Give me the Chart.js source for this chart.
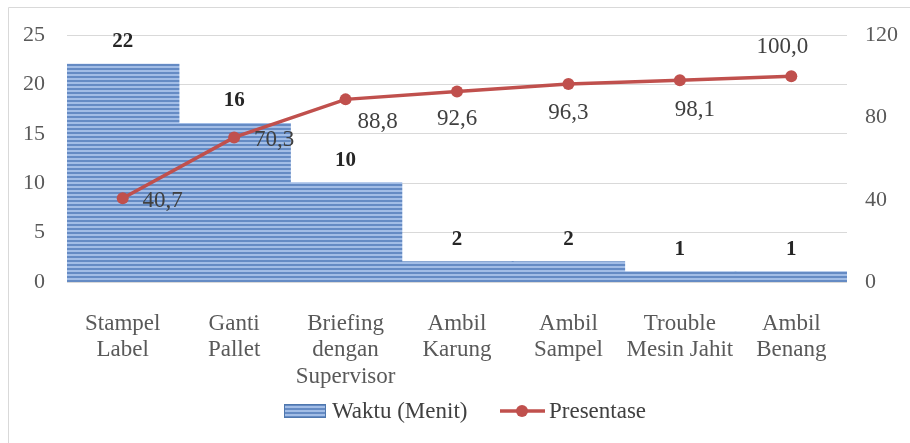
<!DOCTYPE html>
<html>
<head>
<meta charset="utf-8">
<script src="https://cdn.jsdelivr.net/npm/chart.js@4/dist/chart.umd.min.js"></script>
<style>
  body { margin: 0; background: #fff; }
  #wrap { width: 910px; height: 443px; }
</style>
</head>
<body>
<div id="wrap"><canvas id="myChart" width="910" height="443"></canvas></div>
<script>
const categories = [
  ["Stampel", "Label"],
  ["Ganti", "Pallet"],
  ["Briefing", "dengan", "Supervisor"],
  ["Ambil", "Karung"],
  ["Ambil", "Sampel"],
  ["Trouble", "Mesin Jahit"],
  ["Ambil", "Benang"]
];
const waktu = [22, 16, 10, 2, 2, 1, 1];
const presentase = [40.7, 70.3, 88.8, 92.6, 96.3, 98.1, 100.0];
const leftTicks = [0, 5, 10, 15, 20, 25];
const rightTicks = [0, 40, 80, 120];

// where each percentage label sits relative to its point (dx, dy)
const pctLabelOffsets = [[40, 3], [40, 3], [32, 23], [0, 27], [0, 29], [15, 30], [-9, -29]];

const serif = '"Liberation Serif", "Times New Roman", serif';
const lineColor = '#c0504d';

// horizontal stripe fill like the original bars
function stripes() {
  const c = document.createElement('canvas');
  c.width = 8; c.height = 4;
  const g = c.getContext('2d');
  g.fillStyle = '#658bc4'; g.fillRect(0, 0, 8, 2);
  g.fillStyle = '#a2bde6'; g.fillRect(0, 2, 8, 2);
  return g.createPattern(c, 'repeat');
}
const barFill = stripes();

const extras = {
  id: 'extras',
  afterDraw(chart) {
    const ctx = chart.ctx;
    ctx.save();
    // outer frame (top and left only are visible)
    ctx.strokeStyle = '#d9d9d9';
    ctx.lineWidth = 1;
    ctx.beginPath();
    ctx.moveTo(8.5, 443); ctx.lineTo(8.5, 7.5); ctx.lineTo(910, 7.5);
    ctx.stroke();

    // bar values
    const bars = chart.getDatasetMeta(1).data;
    ctx.fillStyle = '#262626';
    ctx.font = 'bold 21px ' + serif;
    ctx.textAlign = 'center';
    ctx.textBaseline = 'middle';
    bars.forEach((b, i) => {
      ctx.fillText(String(waktu[i]), b.x, b.y - 23);
    });

    // percentage values
    const pts = chart.getDatasetMeta(0).data;
    ctx.fillStyle = '#404040';
    ctx.font = '23px ' + serif;
    pts.forEach((p, i) => {
      const o = pctLabelOffsets[i];
      ctx.fillText(presentase[i].toFixed(1).replace('.', ','), p.x + o[0], p.y + o[1]);
    });

    // legend
    const ly = 411;
    ctx.fillStyle = barFill;
    ctx.fillRect(284, ly - 7, 42, 14);
    ctx.strokeStyle = '#4f77ad';
    ctx.strokeRect(284.5, ly - 6.5, 41, 13);
    ctx.fillStyle = '#404040';
    ctx.textAlign = 'left';
    ctx.fillText('Waktu (Menit)', 332, ly + 1);
    ctx.strokeStyle = lineColor;
    ctx.lineWidth = 3.5;
    ctx.beginPath(); ctx.moveTo(500, ly); ctx.lineTo(545, ly); ctx.stroke();
    ctx.fillStyle = lineColor;
    ctx.beginPath(); ctx.arc(522, ly, 6, 0, Math.PI * 2); ctx.fill();
    ctx.fillStyle = '#404040';
    ctx.fillText('Presentase', 549, ly + 1);
    ctx.restore();
  }
};

const ctx = document.getElementById('myChart').getContext('2d');
const chart = new Chart(ctx, {
  data: {
    labels: categories,
    datasets: [{
      type: 'line',
      label: 'Presentase',
      data: presentase,
      yAxisID: 'y1',
      borderColor: lineColor,
      backgroundColor: lineColor,
      borderWidth: 3.5,
      pointRadius: 6,
      pointBackgroundColor: lineColor,
      pointBorderWidth: 0,
      tension: 0,
      order: 0
    }, {
      type: 'bar',
      label: 'Waktu (Menit)',
      data: waktu,
      yAxisID: 'y',
      backgroundColor: barFill,
      borderWidth: 0,
      inflateAmount: 1,
      categoryPercentage: 1,
      barPercentage: 1,
      order: 1
    }]
  },
  options: {
    responsive: false,
    animation: false,
    layout: { padding: { left: 0, right: 0, top: 33, bottom: 0 } },
    plugins: { legend: { display: false }, tooltip: { enabled: false } },
    scales: {
      x: {
        grid: { display: false },
        border: { display: false },
        ticks: {
          color: '#595959',
          font: { family: serif, size: 23, lineHeight: 1.17 },
          padding: 20,
          maxRotation: 0,
          autoSkip: false
        },
        afterFit(s) { s.height = 161; }
      },
      y: {
        position: 'left',
        min: 0, max: 25,
        afterBuildTicks(s) { s.ticks = leftTicks.map(v => ({ value: v })); },
        grid: { color: '#d9d9d9', lineWidth: 1, drawTicks: false },
        border: { display: false },
        ticks: { color: '#595959', font: { family: serif, size: 22 }, padding: 22 },
        afterFit(s) { s.width = 67; }
      },
      y1: {
        position: 'right',
        min: 0, max: 120,
        afterBuildTicks(s) { s.ticks = rightTicks.map(v => ({ value: v })); },
        grid: { display: false, drawTicks: false },
        border: { display: false },
        ticks: { color: '#595959', font: { family: serif, size: 22 }, padding: 18 },
        afterFit(s) { s.width = 63; }
      }
    }
  },
  plugins: [extras]
});
</script>
</body>
</html>
